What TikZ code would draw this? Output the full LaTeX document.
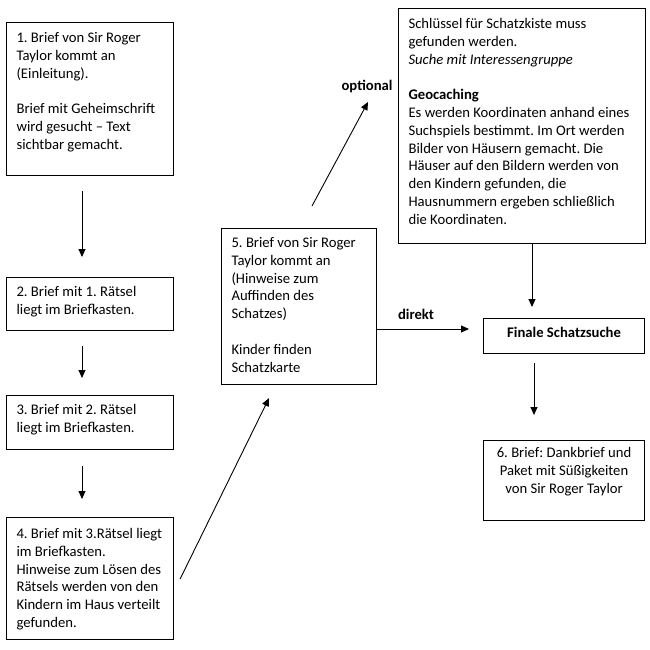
\documentclass[tikz,border=0pt]{standalone}
\usepackage{fontspec}
\setmainfont{Carlito}
\frenchspacing
\usetikzlibrary{arrows.meta,calc}
\newcommand\bxt[5][\raggedright]{\parbox[c][#3][t]{#2}{#1\rule{0pt}{#4}#5}}
\tikzset{
  box/.style={draw, line width=1.1pt, anchor=north west, inner xsep=10pt, inner ysep=0pt,
    font=\fontsize{14.67}{17.8}\selectfont\frenchspacing},
  arr/.style={line width=0.9pt, -{Triangle[length=8pt,width=7pt]}},
  lbl/.style={anchor=base, inner sep=0pt, font=\fontsize{14.67}{17.8}\selectfont\bfseries}
}
\begin{document}
\begin{tikzpicture}[x=1pt,y=-1pt]
\useasboundingbox (0,0) rectangle (650,650);
\node[box] (b1) at (6,22) {\bxt{147pt}{153pt}{20pt}{1. Brief von Sir Roger\\Taylor kommt an\\(Einleitung).\\[\baselineskip]\mbox{Brief mit Geheimschrift}\\wird gesucht – Text\\sichtbar gemacht.}};
\node[box] (b2) at (6,277) {\bxt{147pt}{53pt}{19pt}{2. Brief mit 1. Rätsel\\liegt im Briefkasten.}};
\node[box] (b3) at (6,395) {\bxt{147pt}{54pt}{19pt}{3. Brief mit 2. Rätsel\\liegt im Briefkasten.}};
\node[box] (b4) at (6,517) {\bxt{147pt}{122pt}{21pt}{\mbox{4. Brief mit 3.Rätsel liegt}\\im Briefkasten.\\\mbox{Hinweise zum Lösen des}\\\mbox{Rätsels werden von den}\\\mbox{Kindern im Haus verteilt}\\gefunden.}};
\node[box] (b5) at (221,228) {\bxt{135pt}{156pt}{19pt}{5. Brief von Sir Roger\\Taylor kommt an\\(Hinweise zum\\Auffinden des\\Schatzes)\\[\baselineskip]Kinder finden\\Schatzkarte}};
\node[box] (b6) at (398,8) {\bxt{227pt}{235pt}{20pt}{Schlüssel für Schatzkiste muss\\gefunden werden.\\\textit{Suche mit Interessengruppe}\\[\baselineskip]\textbf{Geocaching}\\\mbox{Es werden Koordinaten anhand eines}\\\mbox{Suchspiels bestimmt. Im Ort werden}\\\mbox{Bilder von Häusern gemacht. Die}\\\mbox{Häuser auf den Bildern werden von}\\den Kindern gefunden, die\\Hausnummern ergeben schließlich\\die Koordinaten.}};
\node[box] (fin) at (483,318) {\bxt[\centering]{141pt}{35pt}{19pt}{\textbf{Finale Schatzsuche}}};
\node[box] (b7) at (483,440) {\bxt[\centering]{141pt}{80pt}{17pt}{6. Brief: Dankbrief und\\Paket mit Süßigkeiten\\von Sir Roger Taylor}};
\node[lbl] (lopt) at (367,91) {optional};
\node[lbl] (ldir) at (416,319) {direkt};
\draw[arr] ($(b1.south west)+(76,15)$) -- ($(b2.north west)+(76,-20)$);
\draw[arr] ($(b2.south west)+(76,15)$) -- ($(b3.north west)+(76,-17)$);
\draw[arr] ($(b3.south west)+(76,16)$) -- ($(b4.north west)+(76,-18)$);
\draw[arr] ($(b4.north east)+(6,62)$) -- ($(b5.south west)+(48,13)$);
\draw[arr] ($(b5.north west)+(91,-22)$) -- ($(b6.north west)+(-30,94)$);
\draw[arr] ($(b5.north east)+(0,101)$) -- ($(fin.north west)+(-14,11)$);
\draw[arr] ($(b6.south west)+(134,0)$) -- ($(fin.north west)+(49,-11)$);
\draw[arr] ($(fin.south west)+(51,9)$) -- ($(b7.north west)+(51,-25)$);
\end{tikzpicture}
\end{document}
